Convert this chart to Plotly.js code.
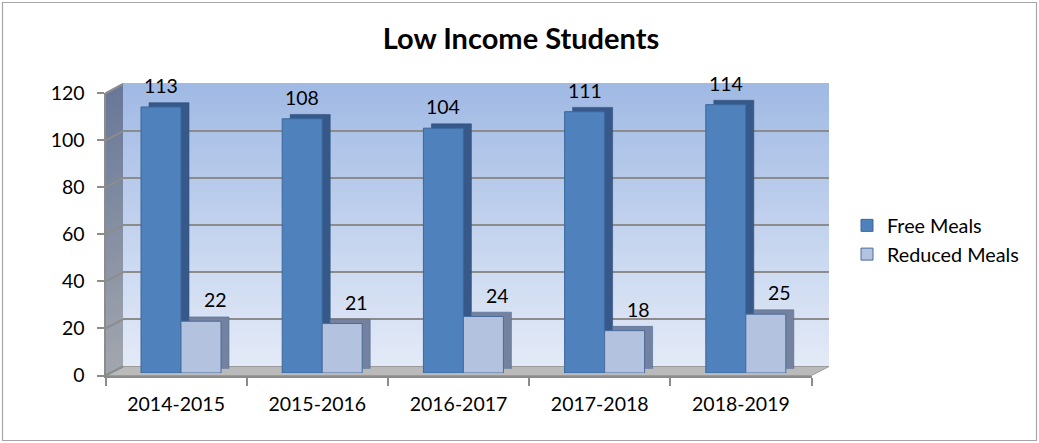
<!DOCTYPE html>
<html>
<head>
<meta charset="utf-8">
<script src="https://cdn.plot.ly/plotly-3.0.1.min.js"></script>
<style>html,body{margin:0;padding:0;background:#fff;}#chart{width:1039px;height:443px;}</style>
</head>
<body>
<div id="chart"></div>
<script>
// ---- data ----
const categories = ['2014-2015', '2015-2016', '2016-2017', '2017-2018', '2018-2019'];
const freeMeals = [113, 108, 104, 111, 114];
const reducedMeals = [22, 21, 24, 18, 25];
const seriesNames = ['Free Meals', 'Reduced Meals'];
const yTicks = [0, 20, 40, 60, 80, 100, 120];
const chartTitle = 'Low Income Students';

// ---- geometry (pixels) ----
const W = 1039, H = 443;
const BACK = {x0: 123, x1: 829, y0: 366.5, y1: 84};
const SHADOW = {x0: 118.4, x1: 824.4, y0: 368.7, y1: 86.2};
const FRONT = {x0: 110.4, x1: 816.4, y0: 373, y1: 90.5};
const AXES = {x0: 105.5, x1: 811.5, y0: 375.5, y1: 93.3};
const YMAX = 120;
const FONT = 'Lato, "Open Sans", sans-serif';
const px = x => x / W;
const py = y => (H - y) / H;

function xdom(p) { return [px(p.x0), px(p.x1)]; }
function ydom(p) { return [py(p.y0), py(p.y1)]; }

function lerp(a, b, t) { return a + (b - a) * t; }
function rgb(c0, c1, t) {
  return 'rgb(' + [0, 1, 2].map(i => Math.round(lerp(c0[i], c1[i], t))).join(',') + ')';
}

const shapes = [];
// back wall gradient
const NB = 48;
const wallBottom = [228, 235, 247], wallTop = [160, 185, 228];
for (let i = 0; i < NB; i++) {
  const t0 = i / NB, t1 = (i + 1) / NB;
  shapes.push({type: 'rect', xref: 'paper', yref: 'paper', layer: 'below',
    x0: px(BACK.x0), x1: px(BACK.x1),
    y0: py(lerp(BACK.y0, BACK.y1, t0)), y1: py(lerp(BACK.y0, BACK.y1, t1)) + 0.002,
    fillcolor: rgb(wallBottom, wallTop, (t0 + t1) / 2), line: {width: 0}});
}
// left wall gradient
const leftBottom = [162, 166, 174], leftTop = [104, 120, 152];
for (let i = 0; i < NB; i++) {
  const t0 = i / NB, t1 = (i + 1) / NB;
  const a0 = lerp(AXES.y0, AXES.y1, t0), a1 = lerp(AXES.y0, AXES.y1, t1) - 0.8;
  const b0 = lerp(BACK.y0, BACK.y1, t0), b1 = lerp(BACK.y0, BACK.y1, t1) - 0.8;
  shapes.push({type: 'path', xref: 'paper', yref: 'paper', layer: 'below',
    path: `M${px(AXES.x0)},${py(a0)} L${px(BACK.x0)},${py(b0)} L${px(BACK.x0)},${py(b1)} L${px(AXES.x0)},${py(a1)} Z`,
    fillcolor: rgb(leftBottom, leftTop, (t0 + t1) / 2), line: {width: 0}});
}
// floor
shapes.push({type: 'path', xref: 'paper', yref: 'paper', layer: 'below',
  path: `M${px(AXES.x0)},${py(AXES.y0)} L${px(BACK.x0)},${py(BACK.y0)} L${px(BACK.x1)},${py(BACK.y0)} L${px(AXES.x1)},${py(AXES.y0)} Z`,
  fillcolor: '#bababa', line: {color: '#9a9a9a', width: 1}});
// left wall grid lines
yTicks.forEach(v => {
  const t = v / YMAX;
  shapes.push({type: 'line', xref: 'paper', yref: 'paper', layer: 'below',
    x0: px(AXES.x0), y0: py(lerp(AXES.y0, AXES.y1, t)),
    x1: px(BACK.x0), y1: py(lerp(BACK.y0, BACK.y1, t)),
    line: {color: '#8c8c8c', width: 2}});
});
// chart border
shapes.push({type: 'rect', xref: 'paper', yref: 'paper', layer: 'above',
  x0: px(2.5), x1: px(1036.5), y0: py(440.5), y1: py(2.5),
  line: {color: '#a6a6a6', width: 1.2}, fillcolor: 'rgba(0,0,0,0)'});

const nulls = categories.map(() => null);
const traces = [
  // back plane (grid only)
  {type: 'scatter', x: categories, y: nulls, xaxis: 'x', yaxis: 'y', mode: 'markers',
   showlegend: false, hoverinfo: 'skip'},
  // depth (side + top faces)
  {type: 'bar', x: categories, y: freeMeals, xaxis: 'x2', yaxis: 'y2', showlegend: false,
   hoverinfo: 'skip', marker: {color: '#36598a', line: {color: '#2f4f7c', width: 0.6}}},
  {type: 'bar', x: categories, y: reducedMeals, xaxis: 'x2', yaxis: 'y2', showlegend: false,
   hoverinfo: 'skip', marker: {color: '#74829f', line: {color: '#4a6c9b', width: 0.6}}},
  // front faces
  {type: 'bar', name: seriesNames[0], x: categories, y: freeMeals, xaxis: 'x3', yaxis: 'y3',
   marker: {color: '#4f81bd', line: {color: '#3b679c', width: 1}}},
  {type: 'bar', name: seriesNames[1], x: categories, y: reducedMeals, xaxis: 'x3', yaxis: 'y3',
   marker: {color: '#b3c2df', line: {color: '#4a6c9b', width: 1}}},
  // axes plane
  {type: 'scatter', x: categories, y: nulls, xaxis: 'x4', yaxis: 'y4', mode: 'markers',
   showlegend: false, hoverinfo: 'skip'}
];

const hidden = {showgrid: false, zeroline: false, showline: false, showticklabels: false, ticks: '', fixedrange: true};
const catAxis = p => Object.assign({}, hidden, {type: 'category', categoryorder: 'array',
  categoryarray: categories, range: [-0.5, categories.length - 0.5], domain: xdom(p)});
const valAxis = p => Object.assign({}, hidden, {range: [0, YMAX], domain: ydom(p)});

const annotations = [];
const series = [freeMeals, reducedMeals];
const labelShift = [-20, 34];
series.forEach((vals, s) => {
  vals.forEach((v, i) => {
    annotations.push({xref: 'x3', yref: 'y3', x: categories[i], y: v, text: String(v),
      showarrow: false, xanchor: 'center', yanchor: 'bottom', xshift: labelShift[s], yshift: 8,
      font: {family: FONT, size: 19.5, color: '#000'}});
  });
});

const layout = {
  width: W, height: H,
  margin: {l: 0, r: 0, t: 0, b: 0},
  paper_bgcolor: '#fff', plot_bgcolor: 'rgba(0,0,0,0)',
  font: {family: FONT, size: 19, color: '#000'},
  title: {text: chartTitle, x: 521 / W, xanchor: 'center', xref: 'paper', y: 1 - 39 / H, yanchor: 'middle', yref: 'container',
    font: {family: FONT, size: 29, weight: 700, color: '#000'}},
  barmode: 'group', bargap: 0.4334, bargroupgap: 0,
  showlegend: true,
  legend: {x: px(847), xanchor: 'left', y: py(240), yanchor: 'middle', font: {family: FONT, size: 19.8, color: '#000'},
    bgcolor: 'rgba(0,0,0,0)', tracegroupgap: 0, itemclick: false},
  xaxis: Object.assign(catAxis(BACK), {anchor: 'y'}),
  yaxis: Object.assign(valAxis(BACK), {anchor: 'x', showgrid: true, gridcolor: '#8c8c8c', gridwidth: 2,
    tickmode: 'array', tickvals: yTicks}),
  xaxis2: Object.assign(catAxis(SHADOW), {anchor: 'y2'}),
  yaxis2: Object.assign(valAxis(SHADOW), {anchor: 'x2'}),
  xaxis3: Object.assign(catAxis(FRONT), {anchor: 'y3'}),
  yaxis3: Object.assign(valAxis(FRONT), {anchor: 'x3'}),
  xaxis4: Object.assign(catAxis(AXES), {anchor: 'y4', showline: true, linecolor: '#8c8c8c', linewidth: 2,
    ticks: 'outside', tickson: 'boundaries', ticklen: 8, tickwidth: 2, tickcolor: '#8c8c8c',
    showticklabels: true, ticklabelstandoff: 10, tickfont: {family: FONT, size: 19.5, color: '#000'}}),
  yaxis4: Object.assign(valAxis(AXES), {anchor: 'x4', showline: true, linecolor: '#8c8c8c', linewidth: 2,
    ticks: 'outside', ticklen: 7, tickwidth: 2, tickcolor: '#8c8c8c', tickmode: 'array', tickvals: yTicks,
    showticklabels: true, ticklabelstandoff: 8, tickfont: {family: FONT, size: 19.5, color: '#000'}}),
  shapes: shapes,
  annotations: annotations
};

Plotly.newPlot('chart', traces, layout, {staticPlot: true, displayModeBar: false});
</script>
</body>
</html>
